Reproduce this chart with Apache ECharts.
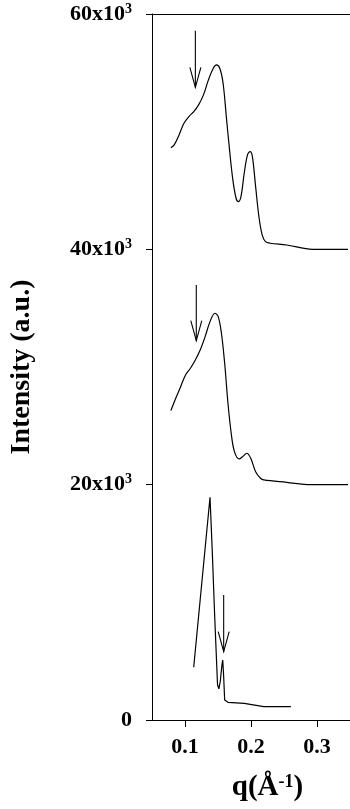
<!DOCTYPE html>
<html><head><meta charset="utf-8">
<script src="https://cdn.jsdelivr.net/npm/echarts@6/dist/echarts.min.js"></script>
<style>html,body{margin:0;padding:0;background:#fff}#c{width:350px;height:809px}</style>
</head><body><div id="c"></div>
<script>
// Top trace (offset by 40x10^3)
const topQ = [0.0786,0.0836,0.091,0.0984,0.1058,0.1133,0.1206,0.128,0.1355,0.1429,0.1478,0.1527,0.1577,0.1626,0.1675,0.1725,0.1774,0.1808,0.1848,0.1897,0.1947,0.1986,0.2021,0.207,0.212,0.2169,0.2219,0.2293,0.254,0.2934,0.347];
const topI = [48640,48875,49725,50715,51280,51705,52275,53125,54400,55390,55675,55390,54115,51280,48450,45900,44340,44055,44480,46465,48025,48305,47880,45330,42780,41225,40655,40515,40370,40000,40000];
// Middle trace (offset by 20x10^3)
const midQ = [0.0786,0.086,0.0934,0.1008,0.1082,0.1156,0.123,0.1305,0.1379,0.1453,0.1503,0.1552,0.1601,0.1651,0.17,0.1749,0.1823,0.1873,0.1937,0.1996,0.207,0.2144,0.2193,0.254,0.291,0.347];
const midI = [26290,27340,28330,29325,29895,30600,31450,32580,33855,34570,34280,32870,30320,26920,24370,22805,22185,22380,22670,22245,21105,20545,20400,20200,20000,20000];
// Bottom trace
const botQ = [0.1132,0.1379,0.1412,0.1450,0.1493,0.1513,0.1535,0.1560,0.1572,0.1585,0.1601,0.1651,0.1897,0.2193,0.2604];
const botI = [4480,18930,14500,8800,3000,2640,3300,4700,5100,3800,1700,1500,1420,1130,1130];
// Arrows: q position, tail intensity, tip intensity
const arrowQ = [0.1157,0.1171,0.1586];
const arrowTail = [58580,36975,10625];
const arrowTip = [53770,32240,5805];
// Axes
const yTicks = [0,20000,40000,60000];
const xTicks = [0.1,0.2,0.3];

const FONT = "'Liberation Serif','Times New Roman',serif";
const zip = (a,b) => a.map((v,i) => [v,b[i]]);
const chart = echarts.init(document.getElementById('c'), null, {renderer:'canvas'});
const lineSeries = (q, I, smooth) => ({
  type:'line', data: zip(q,I), symbol:'none', smooth: smooth,
  lineStyle:{color:'#000', width:1.2}, silent:true
});
chart.setOption({
  animation:false,
  backgroundColor:'#fff',
  grid:{left:149, right:0, top:14, bottom:89, containLabel:false},
  xAxis:[{
    type:'value', min:0.05, max:0.35, position:'bottom',
    axisLine:{show:true, onZero:false, lineStyle:{color:'#000', width:1}},
    axisTick:{show:true, length:7, customValues:xTicks, lineStyle:{color:'#000'}},
    axisLabel:{customValues:xTicks, formatter:v=>v.toFixed(1), color:'#000', fontFamily:FONT, fontWeight:'bold', fontSize:22, margin:16},
    splitLine:{show:false},
    name:'{a|q(Å}{s|-1}{a|)}', nameLocation:'middle', nameGap:53,
    nameTextStyle:{padding:[0,0,0,33], rich:{
      a:{fontFamily:FONT, fontWeight:'bold', fontSize:29, color:'#000', lineHeight:30},
      s:{fontFamily:FONT, fontWeight:'bold', fontSize:18, color:'#000', verticalAlign:'top', lineHeight:30}
    }}
  },{
    type:'value', min:0.05, max:0.35, position:'top',
    axisLine:{show:true, onZero:false, lineStyle:{color:'#000', width:1}},
    axisTick:{show:false}, axisLabel:{show:false}, splitLine:{show:false}
  }],
  yAxis:{
    type:'value', min:0, max:60000, interval:20000,
    axisLine:{show:true, lineStyle:{color:'#000', width:1}},
    axisTick:{show:true, length:6, lineStyle:{color:'#000'}},
    axisLabel:{
      formatter:v=> v===0 ? '{a|0}' : '{a|'+(v/1000)+'x10}{s|3}',
      margin:20,
      rich:{
        a:{color:'#000', fontFamily:FONT, fontWeight:'bold', fontSize:22, lineHeight:24},
        s:{color:'#000', fontFamily:FONT, fontWeight:'bold', fontSize:14, verticalAlign:'top', lineHeight:24}
      }
    },
    splitLine:{show:false},
    name:'Intensity (a.u.)', nameLocation:'middle', nameGap:116,
    nameTextStyle:{fontFamily:FONT, fontWeight:'bold', fontSize:28, color:'#000'}
  },
  series:[
    lineSeries(topQ, topI, 0.35),
    lineSeries(midQ, midI, 0.35),
    lineSeries(botQ, botI, false),
    {
      type:'custom', silent:true,
      data: arrowQ.map((q,i)=>[q, arrowTail[i], arrowTip[i]]),
      encode:{x:0, y:[1,2]},
      renderItem:(params, api) => {
        const a = api.coord([api.value(0), api.value(1)]);
        const b = api.coord([api.value(0), api.value(2)]);
        const st = {stroke:'#000', lineWidth:1.1, fill:null};
        return {type:'group', children:[
          {type:'line', shape:{x1:a[0], y1:a[1], x2:b[0], y2:b[1]}, style:st},
          {type:'polyline', shape:{points:[[b[0]-5.5,b[1]-20],[b[0],b[1]],[b[0]+5.5,b[1]-20]]}, style:st}
        ]};
      }
    }
  ]
});
</script></body></html>
